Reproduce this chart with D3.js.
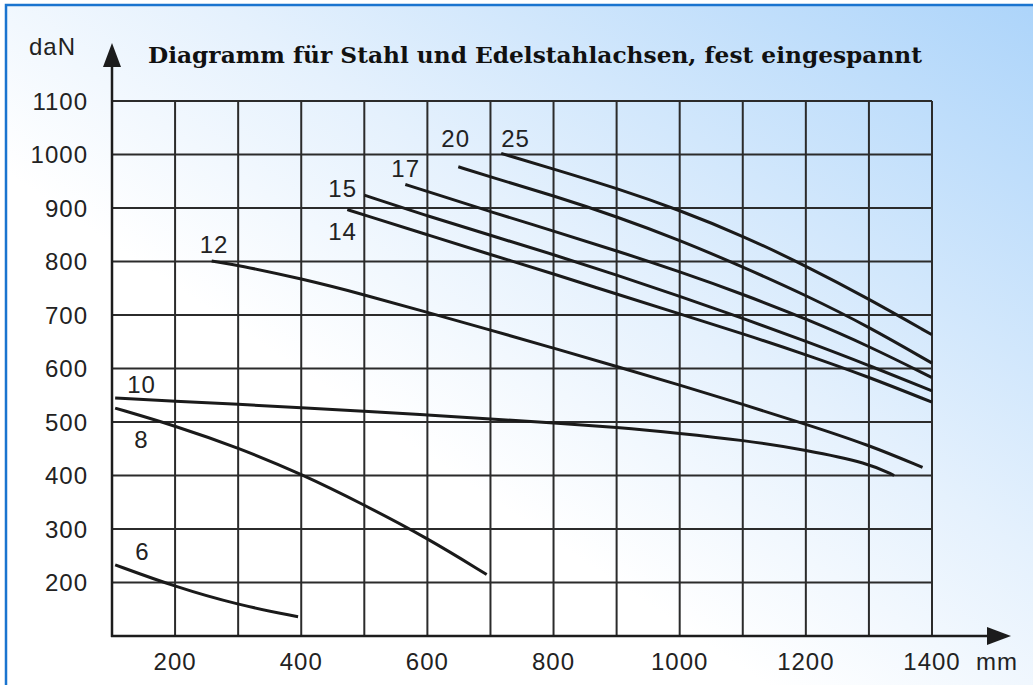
<!DOCTYPE html>
<html>
<head>
<meta charset="utf-8">
<script src="https://cdn.jsdelivr.net/npm/d3@7"></script>
<style>
  body { margin: 0; background: #fff; }
  svg { display: block; }
  .lbl { font-family: "Liberation Sans", Arial, sans-serif; font-size: 24px; fill: #222; letter-spacing: 1px; }
</style>
</head>
<body>
<div class="chart"></div>
<script>
// axis ticks
const xTicks = [200, 400, 600, 800, 1000, 1200, 1400];
const xGrid = [200, 300, 400, 500, 600, 700, 800, 900, 1000, 1100, 1200, 1300, 1400];
const yTicks = [200, 300, 400, 500, 600, 700, 800, 900, 1000, 1100];

// axle diameters
const sizes = ["6", "8", "10", "12", "14", "15", "17", "20", "25"];

// load curves: [length mm, load daN]
const s6 = [[105, 233], [200, 192], [300, 158], [395, 136]];
const s8 = [[105, 526], [200, 493], [300, 452], [400, 403], [500, 345], [600, 283], [694, 215]];
const s10 = [[105, 545], [200, 539], [300, 533], [400, 527], [500, 520], [600, 513], [700, 506],
  [800, 498], [900, 490], [1000, 479], [1100, 466], [1200, 448], [1300, 423], [1340, 400]];
const s12 = [[258, 801], [300, 793], [400, 768], [500, 738], [600, 705], [700, 672], [800, 638],
  [900, 604], [1000, 569], [1100, 533], [1200, 496], [1300, 457], [1385, 415]];
const s14 = [[473, 897], [500, 887], [600, 850], [700, 813], [800, 777], [900, 739], [1000, 702],
  [1100, 665], [1200, 626], [1300, 584], [1400, 537]];
const s15 = [[500, 924], [600, 885], [700, 849], [800, 813], [900, 775], [1000, 735], [1100, 694],
  [1200, 651], [1300, 606], [1400, 558]];
const s17 = [[565, 944], [600, 931], [700, 893], [800, 857], [900, 820], [1000, 781], [1100, 739],
  [1200, 693], [1300, 642], [1400, 583]];
const s20 = [[649, 977], [700, 958], [800, 923], [900, 884], [1000, 840], [1100, 790], [1200, 737],
  [1300, 678], [1400, 610]];
const s25 = [[717, 1002], [800, 973], [900, 937], [1000, 896], [1100, 848], [1200, 792], [1300, 730],
  [1400, 663]];

const series = [s6, s8, s10, s12, s14, s15, s17, s20, s25];

// where the size label sits relative to the start of its curve (px)
const labelOffsets = [[20, -5], [19, 40], [12, -5], [-12, -8], [-19, 30], [-36, 2], [-14, -7], [-17, -20], [0, -6]];

const width = 1033;
const height = 685;

const svg = d3.select(".chart")
  .append("svg")
  .attr("width", width)
  .attr("height", height);

const defs = svg.append("defs");
const grad = defs.append("linearGradient")
  .attr("id", "bg")
  .attr("x1", 0).attr("y1", 1)
  .attr("x2", 1).attr("y2", 0);
grad.append("stop").attr("offset", "0").attr("stop-color", "#ffffff");
grad.append("stop").attr("offset", "0.38").attr("stop-color", "#ffffff");
grad.append("stop").attr("offset", "0.6").attr("stop-color", "#e5f1fd");
grad.append("stop").attr("offset", "1").attr("stop-color", "#acd4fa");

svg.append("rect")
  .attr("x", 6).attr("y", 5)
  .attr("width", 1040).attr("height", 700)
  .attr("fill", "url(#bg)")
  .attr("stroke", "#1a74cf")
  .attr("stroke-width", 2.5);

const x = d3.scaleLinear().domain([100, 1400]).range([112, 932]);
const y = d3.scaleLinear().domain([100, 1100]).range([636, 101]);

// grid
const grid = svg.append("g").attr("stroke", "#2b2b2b").attr("stroke-width", 2);
grid.selectAll(".v")
  .data(xGrid)
  .enter().append("line")
  .attr("x1", d => x(d)).attr("x2", d => x(d))
  .attr("y1", y(100)).attr("y2", y(1100));
grid.selectAll(".h")
  .data(yTicks)
  .enter().append("line")
  .attr("x1", x(100)).attr("x2", x(1400))
  .attr("y1", d => y(d)).attr("y2", d => y(d));

// axes with arrows
const axes = svg.append("g");
axes.append("line")
  .attr("x1", x(100) - 1).attr("x2", 992)
  .attr("y1", y(100)).attr("y2", y(100))
  .attr("stroke", "#1c1c1c").attr("stroke-width", 2.5);
axes.append("path")
  .attr("d", `M987,${y(100) - 9}L1011,${y(100)}L987,${y(100) + 9}Z`)
  .attr("fill", "#1c1c1c");
axes.append("line")
  .attr("x1", x(100)).attr("x2", x(100))
  .attr("y1", y(100) + 1).attr("y2", 62)
  .attr("stroke", "#1c1c1c").attr("stroke-width", 2.5);
axes.append("path")
  .attr("d", `M${x(100) - 9},67L${x(100)},43L${x(100) + 9},67Z`)
  .attr("fill", "#1c1c1c");

// tick labels
svg.append("g").selectAll("text")
  .data(yTicks)
  .enter().append("text")
  .attr("class", "lbl")
  .attr("x", 88)
  .attr("y", d => y(d))
  .attr("dy", "0.36em")
  .attr("text-anchor", "end")
  .text(d => d);

svg.append("g").selectAll("text")
  .data(xTicks)
  .enter().append("text")
  .attr("class", "lbl")
  .attr("x", d => x(d))
  .attr("y", 670)
  .attr("text-anchor", "middle")
  .text(d => d);

svg.append("text").attr("class", "lbl").attr("x", 976).attr("y", 670).text("mm");
svg.append("text").attr("class", "lbl").attr("x", 29).attr("y", 55)
  .attr("letter-spacing", 2).text("daN");

// title
svg.append("text")
  .attr("x", 148).attr("y", 63)
  .attr("textLength", 774)
  .attr("lengthAdjust", "spacingAndGlyphs")
  .style("font-family", "'DejaVu Serif', serif")
  .style("font-weight", "bold")
  .style("font-size", "23px")
  .attr("fill", "#111")
  .text("Diagramm für Stahl und Edelstahlachsen, fest eingespannt");

// curves
const line = d3.line()
  .x(d => x(d[0]))
  .y(d => y(d[1]))
  .curve(d3.curveBasis);

svg.append("g").selectAll("path")
  .data(series)
  .enter().append("path")
  .attr("d", line)
  .attr("fill", "none")
  .attr("stroke", "#1a1a1a")
  .attr("stroke-width", 3);

svg.append("g").selectAll("text")
  .data(series)
  .enter().append("text")
  .attr("class", "lbl")
  .attr("x", (d, i) => x(d[0][0]) + labelOffsets[i][0])
  .attr("y", (d, i) => y(d[0][1]) + labelOffsets[i][1])
  .text((d, i) => sizes[i]);
</script>
</body>
</html>
